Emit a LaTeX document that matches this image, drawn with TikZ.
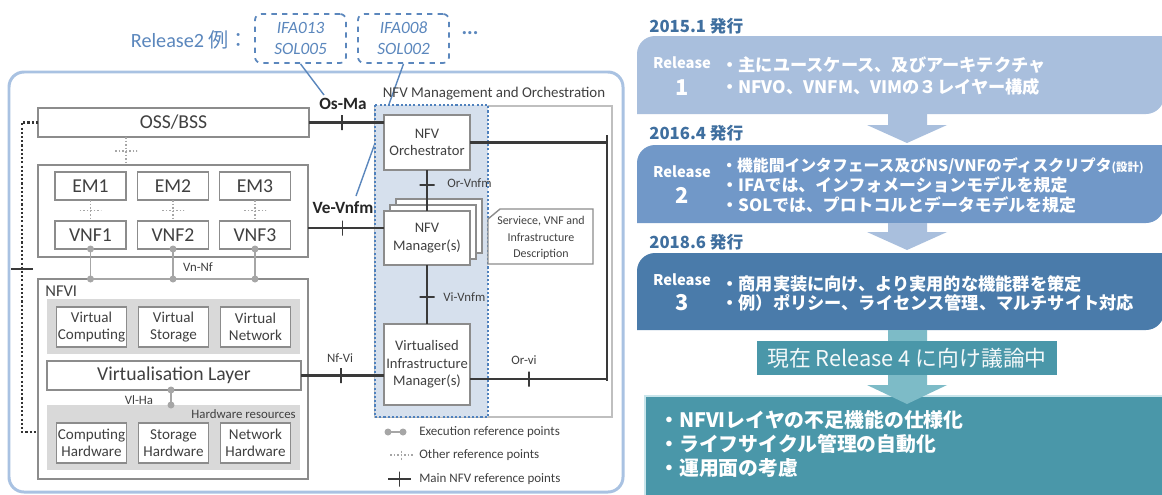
\documentclass[tikz,border=0pt]{standalone}
\usepackage{fontspec}
\setmainfont{Carlito}
\newfontfamily\cjk{Noto Sans CJK JP}
\usetikzlibrary{calc}

\definecolor{txtgray}{HTML}{404040}
\definecolor{boxline}{HTML}{8C8C8C}
\definecolor{panelgray}{HTML}{D9D9D9}
\definecolor{refgray}{HTML}{A6A6A6}
\definecolor{mainline}{HTML}{3A3A3A}
\definecolor{manofill}{HTML}{D6E0ED}
\definecolor{manoedge}{HTML}{4F81BD}
\definecolor{manobox}{HTML}{BFBFBF}
\definecolor{noteblue}{HTML}{5B87BD}
\definecolor{outerblue}{HTML}{A9C2E2}
\definecolor{relone}{HTML}{A9BFDD}
\definecolor{reltwo}{HTML}{7198C8}
\definecolor{relthree}{HTML}{4A7BAA}
\definecolor{datecol}{HTML}{3F6F9F}
\definecolor{tealbox}{HTML}{4A97A9}
\definecolor{tealarrow}{HTML}{7DBBC7}
\definecolor{tealedge}{HTML}{C9E5EB}

\begin{document}
\begin{tikzpicture}[x=0.02cm,y=-0.02cm,
  sz/.style 2 args={minimum width=#1*0.02cm,minimum height=#2*0.02cm},
  blk/.style={draw=boxline,line width=0.8pt,fill=white,inner sep=0pt,outer sep=0pt,
    text=txtgray,align=center,font=\fontsize{8.6}{9.4}\selectfont},
  bigblk/.style={blk,font=\fontsize{11.2}{13}\selectfont},
  manoblk/.style={blk,font=\fontsize{8.3}{10}\selectfont},
  panel/.style={fill=panelgray,inner sep=0pt,outer sep=0pt},
  lbl/.style={text=txtgray,inner sep=0pt,font=\fontsize{7.3}{8.5}\selectfont},
  reflbl/.style={text=black!85,inner sep=0pt,font=\fontsize{9.8}{11}\selectfont\bfseries},
  mainref/.style={draw=mainline,line width=1.5pt},
  otherref/.style={draw=refgray,line width=0.6pt,dash pattern=on 1pt off 1pt},
  execref/.style={draw=refgray,line width=1.1pt},
  dotsline/.style={draw=black!80,line width=1.2pt,dash pattern=on 1.2pt off 1.2pt},
  dot/.style={circle,fill=refgray,inner sep=0pt,minimum size=0.14cm},
  mtickv/.style={draw=mainline,line width=0.8pt,inner sep=0pt,minimum width=0pt,minimum height=0.3cm},
  mtickh/.style={draw=mainline,line width=0.8pt,inner sep=0pt,minimum height=0pt,minimum width=0.3cm},
  otick/.style={draw=refgray,line width=0.6pt,inner sep=0pt,minimum height=0pt,minimum width=0.44cm},
  otickv/.style={draw=refgray,line width=0.6pt,inner sep=0pt,minimum width=0pt,minimum height=0.2cm},
  note/.style={draw=noteblue,dashed,line width=1pt,rounded corners=0.12cm,inner sep=0pt,
    text=noteblue,align=center,font=\fontsize{9.8}{12}\selectfont\itshape},
  rellab/.style={text=white,inner sep=0pt,font=\cjk\bfseries\fontsize{8.4}{9}\selectfont},
  relnum/.style={text=white,inner sep=0pt,font=\cjk\bfseries\fontsize{12.4}{13}\selectfont},
  reltxt/.style={text=white,inner sep=0pt,anchor=west,align=left,font=\cjk\bfseries\fontsize{9.8}{13}\selectfont},
  datetxt/.style={text=datecol,inner sep=0pt,anchor=west,font=\cjk\bfseries\fontsize{9.5}{11}\selectfont}]
\useasboundingbox (0,0) rectangle (1162,494);
\fill[white] (0,0) rectangle (1162,494);

% left side: NFV architecture
\draw[outerblue,line width=1.7pt,rounded corners=0.3cm] (9,72) rectangle (623,492);
\node[text=noteblue,inner sep=0pt,font=\fontsize{11.5}{13}\selectfont] (rel2ex) at (190,40) {Release2 {\cjk 例：}};
\node[note,sz={91}{49}] (ifa1) at (300.5,38.5) {IFA013\\SOL005};
\node[note,sz={91}{49}] (ifa2) at (403.5,38.5) {IFA008\\SOL002};
\node[text=noteblue,inner sep=0pt,font=\fontsize{12}{13}\selectfont\bfseries] (more) at (470,33) {...};
\coordinate (osmatip) at (324,95);
\coordinate (vevnfmtip) at (356,196);
\draw[noteblue,line width=0.8pt] (ifa1.south) -- (osmatip);
\draw[noteblue,line width=0.8pt] (ifa2.south) -- (vevnfmtip);

\node[bigblk,sz={271}{29}] (oss) at (173.5,122.5) {OSS/BSS};
\node[blk,sz={270}{92}] (vnfc) at (173,211) {};
\node[bigblk,sz={71}{28}] (em1) at (90.5,186) {EM1};
\node[bigblk,sz={71}{28}] (em2) at (173,186) {EM2};
\node[bigblk,sz={71}{28}] (em3) at (255,186) {EM3};
\node[bigblk,sz={71}{28}] (vnf1) at (90.5,235) {VNF1};
\node[bigblk,sz={71}{28}] (vnf2) at (173,235) {VNF2};
\node[bigblk,sz={71}{28}] (vnf3) at (255,235) {VNF3};

\node[blk,sz={270}{200}] (nfvi) at (173,379) {};
\node[text=txtgray,inner sep=0pt,anchor=west,font=\fontsize{9.4}{11}\selectfont] (nfvilab) at (45,291) {NFVI};
\node[panel,sz={253}{55}] (vpanel) at (173.5,326.5) {};
\node[blk,sz={70}{40}] (vcomp) at (91.5,327) {Virtual\\Computing};
\node[blk,sz={70}{40}] (vstor) at (173.5,327) {Virtual\\Storage};
\node[blk,sz={70}{40}] (vnet) at (255.5,327) {Virtual\\Network};
\node[bigblk,sz={254}{29}] (vlayer) at (174,375.5) {Virtualisation Layer};
\node[panel,sz={253}{65}] (hwpanel) at (173.5,437.5) {};
\node[lbl,anchor=east] (hwlab) at (296,414) {Hardware resources};
\node[blk,sz={70}{40}] (chw) at (91.5,443) {Computing\\Hardware};
\node[blk,sz={70}{40}] (shw) at (173.5,443) {Storage\\Hardware};
\node[blk,sz={70}{40}] (nhw) at (255.5,443) {Network\\Hardware};

% MANO block
\draw[manobox,line width=0.6pt] (375,106) rectangle (612,417);
\draw[fill=manofill,draw=manoedge,line width=1.2pt,dash pattern=on 1.2pt off 1.2pt] (375,105) rectangle (488,417);
\node[text=txtgray,inner sep=0pt,font=\fontsize{8.5}{10}\selectfont] (manolab) at (494,94) {NFV Management and Orchestration};
\node[manoblk,sz={86}{55}] (nfvo) at (427,142.5) {NFV\\Orchestrator};
\node[manoblk,sz={86}{54}] (nfvmb) at (439,226) {};
\node[manoblk,sz={86}{54}] (nfvmm) at (433,232) {};
\node[manoblk,sz={86}{54}] (nfvm) at (427,238) {NFV\\Manager(s)};
\node[manoblk,sz={86}{81}] (vim) at (427,364.5) {Virtualised\\Infrastructure\\Manager(s)};
\draw[boxline,line width=0.8pt,fill=white] (488,219) -- (500,209) -- (593,209) -- (593,264) -- (488,264) -- cycle;
\node[lbl,align=center,font=\fontsize{6.8}{9.4}\selectfont] (desc) at (541,238) {Serviece, VNF and\\Infrastructure\\Description};
\coordinate (orbartop) at (607,135);
\coordinate (orbarbot) at (607,381);

% reference points
\draw[dotsline] (oss.west) -- ++(-16,0) |- (nfvi.west |- 0,432);
\node[otick,draw=mainline] (lefttick) at (22,269) {};
\draw[otherref] (oss.south -| 126,0) -- node[otick,pos=0.5]{} (vnfc.north -| 126,0);
\draw[otherref] (em1) -- node[otick]{} (vnf1);
\draw[otherref] (em2) -- node[otick]{} (vnf2);
\draw[otherref] (em3) -- node[otick]{} (vnf3);

\draw[execref] (vnf1.south) node[dot]{} -- (vnf1.south |- nfvi.north) node[dot]{};
\draw[execref] (vnf2.south) node[dot]{} -- (vnf2.south |- nfvi.north) node[dot]{};
\draw[execref] (vnf3.south) node[dot]{} -- (vnf3.south |- nfvi.north) node[dot]{};
\draw[execref] (vnf1.south |- nfvi.north) -- (vnf3.south |- nfvi.north);
\node[lbl] (vnnf) at (198,267) {Vn-Nf};
\draw[execref] (vlayer.south -| 171,0) node[dot]{} -- (hwpanel.north -| 171,0) node[dot]{};
\node[lbl] (vlha) at (139,400) {Vl-Ha};

\draw[mainref] (oss.east) -- node[mtickv,pos=0.44]{} (oss.east -| nfvo.west);
\node[reflbl] (osma) at (343,104) {Os-Ma};
\draw[mainref] (vnfc.east |- 0,228) -- node[mtickv,pos=0.45]{} (nfvm.west |- 0,228);
\node[reflbl] (vevnfm) at (343,208) {Ve-Vnfm};
\draw[mainref] (vlayer.east) -- node[mtickv,pos=0.48]{} (vlayer.east -| vim.west);
\node[lbl] (nfvil) at (340,358) {Nf-Vi};
\draw[mainref] (nfvo.south) -- node[mtickh,pos=0.37]{} (nfvm.north);
\node[lbl,anchor=west] (orvnfm) at (447,183) {Or-Vnfm};
\draw[mainref] (nfvm.south) -- node[mtickh,pos=0.54]{} (vim.north);
\node[lbl,anchor=west] (vivnfm) at (443,297) {Vi-Vnfm};
\draw[mainref] (nfvo.east) -- (nfvo.east -| orbartop);
\draw[mainref] (orbartop) -- (orbarbot);
\draw[mainref] (vim.east |- 0,379) -- node[mtickv,pos=0.43]{} (orbarbot |- 0,379);
\node[lbl] (orvi) at (524,360) {Or-vi};

% legend
\draw[execref] (388,432) node[dot]{} -- (403,432) node[dot]{};
\node[lbl,anchor=west,font=\fontsize{7.4}{9}\selectfont] (legexec) at (419,432) {Execution reference points};
\draw[otherref] (390,455) -- node[otickv]{} (413,455);
\node[lbl,anchor=west,font=\fontsize{7.4}{9}\selectfont] (legother) at (419,455) {Other reference points};
\draw[mainref] (388,479) -- node[mtickv]{} (411,479);
\node[lbl,anchor=west,font=\fontsize{7.4}{9}\selectfont] (legmain) at (419,479) {Main NFV reference points};

% right side: releases
\node[datetxt] (date1) at (649,26) {2015.1 発行};
\fill[relone] (637,114) -- (637,54) arc[start angle=180,end angle=90,radius=0.36cm]
  -- (1164,36) -- (1164,96) arc[start angle=0,end angle=-90,radius=0.36cm] -- cycle;
\node[rellab] (r1lab) at (682,63) {Release};
\node[relnum] (r1num) at (682,88) {1};
\node[reltxt] (r1txt) at (721,76) {・主にユースケース、及びアーキテクチャ\\・NFVO、VNFM、VIMの３レイヤー構成};
\fill[relone] (888,114) -- (927,114) -- (927,125) -- (947,125) -- (907,143) -- (867,125) -- (888,125) -- cycle;

\node[datetxt] (date2) at (649,133) {2016.4 発行};
\fill[reltwo] (637,223) -- (637,163) arc[start angle=180,end angle=90,radius=0.36cm]
  -- (1164,145) -- (1164,205) arc[start angle=0,end angle=-90,radius=0.36cm] -- cycle;
\node[rellab] (r2lab) at (682,172) {Release};
\node[relnum] (r2num) at (682,195) {2};
\node[reltxt,font=\cjk\bfseries\fontsize{9.6}{11.6}\selectfont] (r2txt) at (721,185.5)
  {{\fontsize{9}{11.6}\selectfont ・機能間インタフェース及びNS/VNFのディスクリプタ{\fontsize{6.5}{8}\selectfont(設計)}}\\・IFAでは、インフォメーションモデルを規定\\・SOLでは、プロトコルとデータモデルを規定};
\fill[relone] (888,223) -- (927,223) -- (927,232) -- (947,232) -- (907,250) -- (867,232) -- (888,232) -- cycle;

\node[datetxt] (date3) at (649,242) {2018.6 発行};
\fill[relthree] (637,330) -- (637,271) arc[start angle=180,end angle=90,radius=0.36cm]
  -- (1164,253) -- (1164,312) arc[start angle=0,end angle=-90,radius=0.36cm] -- cycle;
\node[rellab] (r3lab) at (682,280) {Release};
\node[relnum] (r3num) at (682,303) {3};
\node[reltxt,font=\cjk\bfseries\fontsize{9.8}{11}\selectfont] (r3txt) at (721,293.5)
  {・商用実装に向け、より実用的な機能群を策定\\・例）ポリシー、ライセンス管理、マルチサイト対応};

\draw[fill=tealbox,draw=tealedge,line width=1.5pt] (645,396) rectangle (1170,500);
\fill[tealarrow] (888,330) -- (927,330) -- (927,385) -- (947,385) -- (907,404) -- (867,385) -- (888,385) -- cycle;
\node[fill=tealbox,sz={300}{34},inner sep=0pt,text=white!94!tealbox,font=\cjk\fontsize{12.4}{14}\selectfont] (now4) at (907,358) {現在 Release 4 に向け議論中};
\node[reltxt,font=\cjk\bfseries\fontsize{11.3}{13.6}\selectfont] (r4txt) at (659,444)
  {・NFVIレイヤの不足機能の仕様化\\・ライフサイクル管理の自動化\\・運用面の考慮};
\end{tikzpicture}
\end{document}
